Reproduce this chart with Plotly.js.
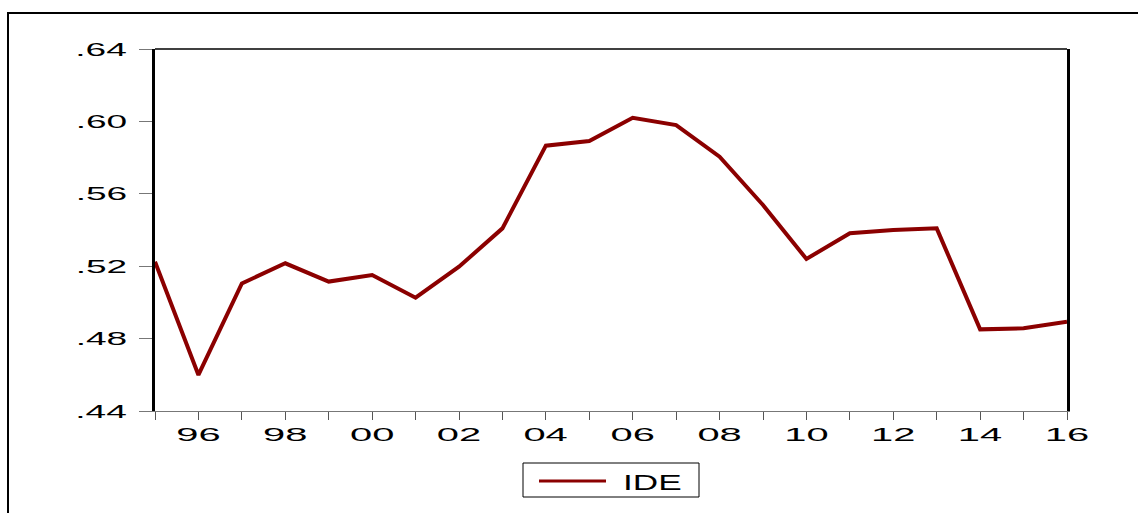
<!DOCTYPE html>
<html>
<head>
<meta charset="utf-8">
<script src="https://cdn.plot.ly/plotly-3.0.1.min.js"></script>
<style>
  html, body { margin: 0; padding: 0; background: #fff; }
  #chart { width: 1138px; height: 513px; }
</style>
</head>
<body>
<div id="chart"></div>
<script>
// Data
const years = [1995, 1996, 1997, 1998, 1999, 2000, 2001, 2002, 2003, 2004, 2005,
               2006, 2007, 2008, 2009, 2010, 2011, 2012, 2013, 2014, 2015, 2016];
const ide = [0.5225, 0.4599, 0.5105, 0.5216, 0.5115, 0.5151, 0.5026, 0.5197, 0.5409, 0.5866, 0.5892,
             0.6020, 0.5980, 0.5805, 0.5538, 0.5240, 0.5382, 0.5400, 0.5409, 0.4851, 0.4857, 0.4893];
const seriesName = "IDE";
const yTickVals = [0.44, 0.48, 0.52, 0.56, 0.60, 0.64];
const yTickText = [".44", ".48", ".52", ".56", ".60", ".64"];
const xTickText = years.map(y => (y % 2 === 0 ? String(y % 100).padStart(2, "0") : ""));

// Geometry (pixels) of the plot area
const W = 1138, H = 513;
const L = 155, R = 1067, T = 49, B = 411;
const pw = R - L, ph = B - T;
const px = v => (v - L) / pw;
const py = v => (B - v) / ph;

const trace = {
  x: years, y: ide, type: "scatter", mode: "lines", name: seriesName,
  line: { color: "#8B0000", width: 4 }, showlegend: false, hoverinfo: "x+y"
};

const font = { family: "Liberation Sans, Arial, sans-serif", size: 19, color: "#000" };

const layout = {
  width: W, height: H,
  margin: { l: L, r: W - R, t: T, b: H - B, pad: 0 },
  paper_bgcolor: "#fff", plot_bgcolor: "#fff",
  font: font,
  showlegend: false,
  xaxis: {
    range: [1995, 2016], tickmode: "array", tickvals: years, ticktext: xTickText,
    ticks: "outside", ticklen: 8, tickwidth: 1, tickcolor: "#555",
    ticklabelstandoff: -2,
    showgrid: false, zeroline: false, showline: true, linecolor: "#777", linewidth: 1,
    tickfont: font, fixedrange: true
  },
  yaxis: {
    range: [0.44, 0.64], tickmode: "array", tickvals: yTickVals, ticktext: yTickText,
    ticks: "outside", ticklen: 13, tickwidth: 1, tickcolor: "#777",
    ticklabelstandoff: 8,
    showgrid: false, zeroline: false, showline: true, linecolor: "#000", linewidth: 3,
    mirror: true, tickfont: font, fixedrange: true
  },
  shapes: [
    // top border of plot area
    { type: "line", xref: "paper", yref: "paper", x0: 0, x1: 1, y0: 1, y1: 1,
      line: { color: "#000", width: 1.5 } },
    // outer frame
    { type: "rect", xref: "paper", yref: "paper",
      x0: px(8), x1: px(1145), y0: py(520), y1: py(13),
      line: { color: "#000", width: 2 }, layer: "below" },
    // legend box
    { type: "rect", xref: "paper", yref: "paper",
      x0: px(523), x1: px(699), y0: py(497), y1: py(463),
      line: { color: "#000", width: 1 }, fillcolor: "#fff" },
    // legend line
    { type: "line", xref: "paper", yref: "paper",
      x0: px(539), x1: px(606), y0: py(481), y1: py(481),
      line: { color: "#8B0000", width: 3 } }
  ],
  annotations: [
    { xref: "paper", yref: "paper", x: px(621), y: py(482), xanchor: "left", yanchor: "middle",
      text: seriesName, showarrow: false, font: { family: font.family, size: 22, color: "#000" } }
  ]
};

// The reference uses horizontally stretched lettering; emulate it on the real text.
function stretch(sel, sx, anchor) {
  document.querySelectorAll(sel).forEach(t => {
    const bb = t.getBBox();
    if (!bb.width) return;
    const ox = anchor === "end" ? bb.x + bb.width : anchor === "start" ? bb.x : bb.x + bb.width / 2;
    const tr = t.getAttribute("transform") || "";
    t.setAttribute("transform", tr + " translate(" + ox + ",0) scale(" + sx + ",1) translate(" + (-ox) + ",0)");
  });
}

Plotly.newPlot("chart", [trace], layout, { displayModeBar: false, staticPlot: true }).then(() => {
  stretch(".xtick text", 2.1, "middle");
  stretch(".ytick text", 1.95, "end");
  stretch(".annotation-text", 1.6, "start");
});
</script>
</body>
</html>
